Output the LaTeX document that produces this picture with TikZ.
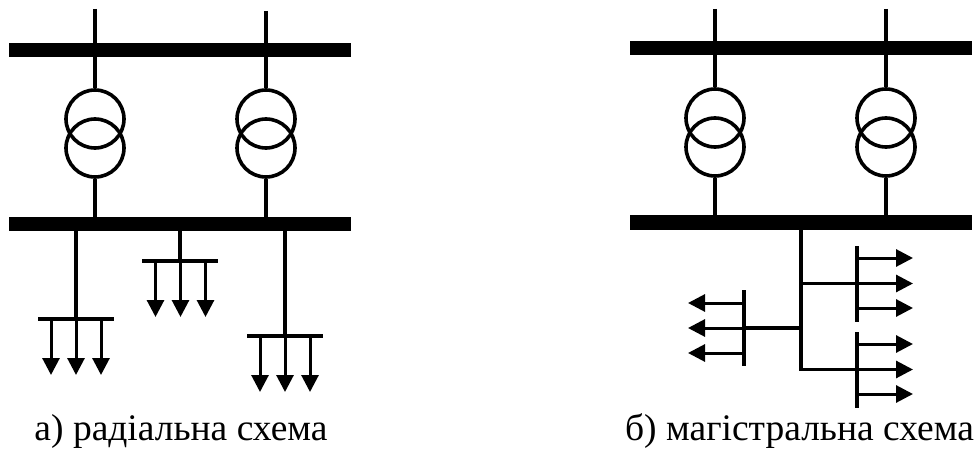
\documentclass[tikz,border=0pt]{standalone}
\usepackage{fontspec}
\setmainfont{Liberation Serif}
\usetikzlibrary{arrows.meta}

\begin{document}
\begin{tikzpicture}[x=1pt, y=-1pt, font=\fontsize{37.5}{42}\selectfont,
  busbar/.style = {fill=black, inner sep=0pt, minimum width=342pt, minimum height=14.5pt},
  winding/.style = {draw, circle, line width=3.6pt, inner sep=0pt, minimum size=58pt},
  loadbar/.style = {fill=black, inner sep=0pt, minimum width=76pt, minimum height=3.4pt},
  loadbarv/.style = {fill=black, inner sep=0pt, minimum width=3.6pt, minimum height=76pt},
  wire/.style = {line width=3.6pt},
  arrow/.style = {-{Triangle[length=17pt, width=17pt]}, line width=3pt},
  caption/.style = {anchor=base, inner sep=0pt}
]
\useasboundingbox (0,0) rectangle (977,452);
% radial scheme
\node[busbar] (bus_a1) at (180,50) {};
\node[busbar] (bus_a2) at (180,224) {};
\coordinate (in_a1) at (95,9);
\coordinate (in_a2) at (266,11);
\node[winding] (tr_a1t) at (95,119) {};
\node[winding] (tr_a1b) at (95,148) {};
\node[winding] (tr_a2t) at (266,119) {};
\node[winding] (tr_a2b) at (266,148) {};
\draw[wire] (in_a1) -- (tr_a1t.north);
\draw[wire] (in_a2) -- (tr_a2t.north);
\draw[wire] (tr_a1b.south) -- (tr_a1b.south |- bus_a2.center);
\draw[wire] (tr_a2b.south) -- (tr_a2b.south |- bus_a2.center);
\node[loadbar] (tee_a1) at (76,319) {};
\node[loadbar] (tee_a2) at (180,261) {};
\node[loadbar] (tee_a3) at (285,336) {};
\draw[wire] (tee_a1 |- bus_a2.south) -- (tee_a1.center);
\draw[wire] (tee_a2 |- bus_a2.south) -- (tee_a2.center);
\draw[wire] (tee_a3 |- bus_a2.south) -- (tee_a3.center);
\coordinate (s_a11) at (51,319);
\coordinate (s_a12) at (76,319);
\coordinate (s_a13) at (101,319);
\coordinate (e_a11) at (51,375);
\coordinate (e_a12) at (76,375);
\coordinate (e_a13) at (101,375);
\draw[arrow] (s_a11) -- (e_a11);
\draw[arrow] (s_a12) -- (e_a12);
\draw[arrow] (s_a13) -- (e_a13);
\coordinate (s_a21) at (155.5,261);
\coordinate (s_a22) at (180.5,261);
\coordinate (s_a23) at (205.5,261);
\coordinate (e_a21) at (155.5,317);
\coordinate (e_a22) at (180.5,317);
\coordinate (e_a23) at (205.5,317);
\draw[arrow] (s_a21) -- (e_a21);
\draw[arrow] (s_a22) -- (e_a22);
\draw[arrow] (s_a23) -- (e_a23);
\coordinate (s_a31) at (260,336);
\coordinate (s_a32) at (285,336);
\coordinate (s_a33) at (310,336);
\coordinate (e_a31) at (260,392);
\coordinate (e_a32) at (285,392);
\coordinate (e_a33) at (310,392);
\draw[arrow] (s_a31) -- (e_a31);
\draw[arrow] (s_a32) -- (e_a32);
\draw[arrow] (s_a33) -- (e_a33);
\node[caption] (cap_a) at (181,440) {а) радіальна схема};
% trunk scheme
\node[busbar] (bus_b1) at (800.5,48) {};
\node[busbar] (bus_b2) at (800.5,222.5) {};
\coordinate (in_b1) at (715,9);
\coordinate (in_b2) at (886,9);
\node[winding] (tr_b1t) at (715,118) {};
\node[winding] (tr_b1b) at (715,147) {};
\node[winding] (tr_b2t) at (886,118) {};
\node[winding] (tr_b2b) at (886,147) {};
\draw[wire] (in_b1) -- (tr_b1t.north);
\draw[wire] (in_b2) -- (tr_b2t.north);
\draw[wire] (tr_b1b.south) -- (tr_b1b.south |- bus_b2.center);
\draw[wire] (tr_b2b.south) -- (tr_b2b.south |- bus_b2.center);
\node[loadbarv] (tee_b1) at (857,283.5) {};
\node[loadbarv] (tee_b2) at (857,369.5) {};
\node[loadbarv] (tee_b3) at (744,328) {};
\coordinate (trunk_end) at (801,369.5);
\draw[wire] (trunk_end |- bus_b2.south) -- (trunk_end) -- (tee_b2.center);
\draw[wire] (tee_b1 -| trunk_end) -- (tee_b1.center);
\draw[wire] (tee_b3 -| trunk_end) -- (tee_b3.center);
\coordinate (s_b11) at (857,258);
\coordinate (s_b12) at (857,283.5);
\coordinate (s_b13) at (857,308);
\coordinate (e_b11) at (913,258);
\coordinate (e_b12) at (913,283.5);
\coordinate (e_b13) at (913,308);
\draw[arrow] (s_b11) -- (e_b11);
\draw[arrow] (s_b12) -- (e_b12);
\draw[arrow] (s_b13) -- (e_b13);
\coordinate (s_b21) at (857,344);
\coordinate (s_b22) at (857,369.5);
\coordinate (s_b23) at (857,394);
\coordinate (e_b21) at (913,344);
\coordinate (e_b22) at (913,369.5);
\coordinate (e_b23) at (913,394);
\draw[arrow] (s_b21) -- (e_b21);
\draw[arrow] (s_b22) -- (e_b22);
\draw[arrow] (s_b23) -- (e_b23);
\coordinate (s_b31) at (744,303);
\coordinate (s_b32) at (744,328);
\coordinate (s_b33) at (744,353);
\coordinate (e_b31) at (688,303);
\coordinate (e_b32) at (688,328);
\coordinate (e_b33) at (688,353);
\draw[arrow] (s_b31) -- (e_b31);
\draw[arrow] (s_b32) -- (e_b32);
\draw[arrow] (s_b33) -- (e_b33);
\node[caption] (cap_b) at (799.5,440) {б) магістральна схема};
\end{tikzpicture}
\end{document}
